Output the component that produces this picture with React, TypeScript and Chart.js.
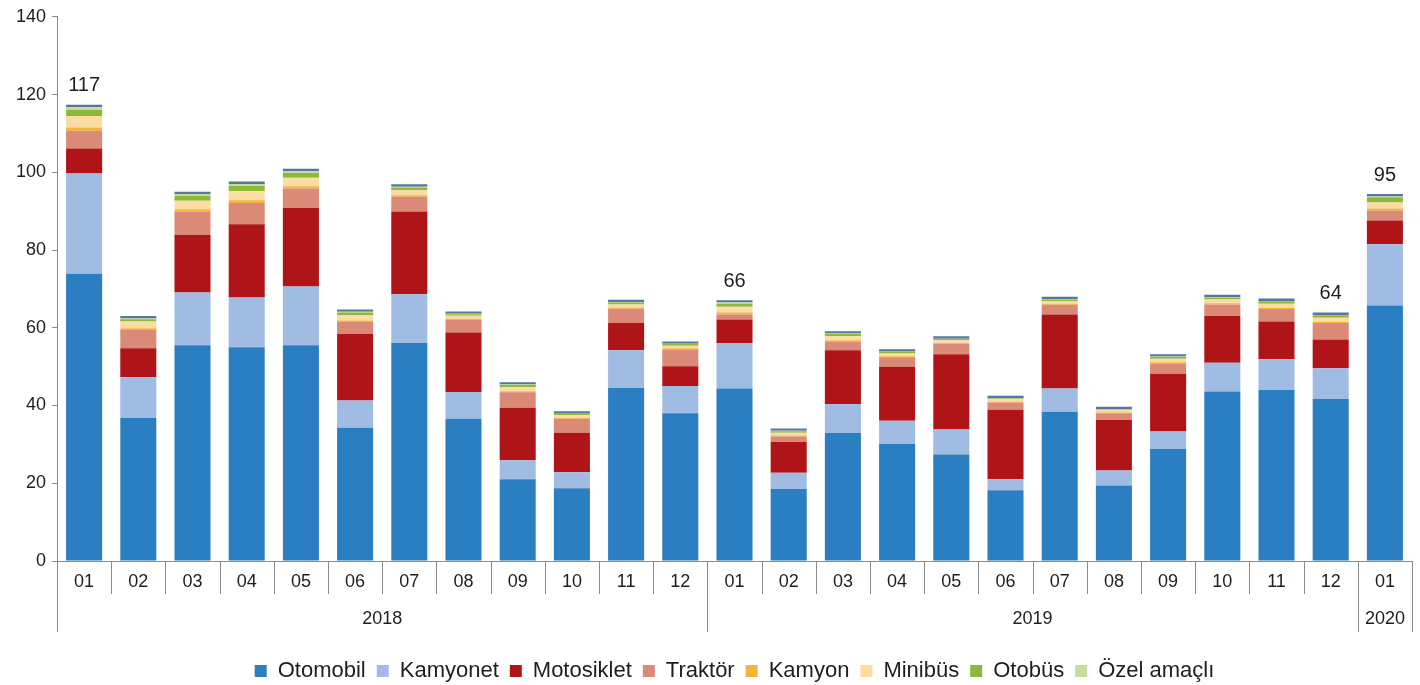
import React, { useEffect, useRef } from "react";
import { Chart, registerables } from "chart.js";

Chart.register(...registerables);

const monthLabels = ["01","02","03","04","05","06","07","08","09","10","11","12","01","02","03","04","05","06","07","08","09","10","11","12","01"];
const yearLabels = ["2018","2018","2018","2018","2018","2018","2018","2018","2018","2018","2018","2018","2019","2019","2019","2019","2019","2019","2019","2019","2019","2019","2019","2019","2020"];
const totalLabels = ["117","","","","","","","","","","","","66","","","","","","","","","","","64","95"];

const otomobil = [73.9, 36.8, 55.5, 55.0, 55.5, 34.3, 56.1, 36.6, 21.0, 18.7, 44.5, 38.0, 44.4, 18.5, 32.9, 30.1, 27.4, 18.2, 38.4, 19.4, 28.8, 43.6, 44.0, 41.7, 65.7];
const kamyonet = [25.8, 10.5, 13.6, 12.8, 15.1, 7.0, 12.5, 6.9, 4.9, 4.1, 9.7, 7.0, 11.7, 4.2, 7.4, 6.0, 6.4, 2.8, 6.0, 3.9, 4.5, 7.4, 7.9, 7.9, 15.8];
const motosiklet = [6.4, 7.4, 14.8, 18.8, 20.2, 17.1, 21.3, 15.3, 13.5, 10.2, 7.0, 5.1, 6.0, 7.9, 13.9, 13.9, 19.4, 17.9, 19.0, 13.0, 14.9, 12.0, 9.7, 7.4, 6.1];
const traktor = [4.6, 4.7, 6.0, 5.5, 5.0, 3.1, 3.8, 3.2, 4.0, 3.6, 3.7, 4.3, 1.3, 1.4, 2.3, 2.4, 2.7, 1.9, 2.5, 1.7, 2.6, 3.0, 3.2, 4.2, 2.6];
const kamyon = [0.8, 0.5, 0.6, 0.7, 0.6, 0.4, 0.4, 0.3, 0.3, 0.2, 0.3, 0.3, 0.5, 0.3, 0.3, 0.3, 0.2, 0.2, 0.3, 0.2, 0.3, 0.3, 0.3, 0.3, 0.5];
const minibus = [3.0, 1.7, 2.2, 2.4, 2.2, 1.3, 1.3, 0.8, 1.0, 0.7, 0.8, 0.7, 1.5, 0.7, 1.0, 0.7, 0.7, 0.6, 0.7, 0.6, 0.9, 1.0, 1.1, 1.1, 1.5];
const otobus = [1.5, 0.6, 1.2, 1.3, 1.2, 0.7, 0.7, 0.4, 0.6, 0.3, 0.5, 0.4, 0.8, 0.4, 0.6, 0.4, 0.3, 0.2, 0.4, 0.2, 0.5, 0.5, 0.6, 0.6, 1.4];
const ozelAmacli = [0.8, 0.2, 0.5, 0.5, 0.5, 0.2, 0.2, 0.1, 0.1, 0.1, 0.1, 0.1, 0.3, 0.1, 0.1, 0.1, 0.1, 0.1, 0.1, 0.1, 0.1, 0.1, 0.1, 0.1, 0.2];
const diger = [0.6, 0.6, 0.6, 0.6, 0.6, 0.6, 0.6, 0.6, 0.6, 0.6, 0.6, 0.6, 0.6, 0.6, 0.6, 0.6, 0.6, 0.6, 0.6, 0.6, 0.6, 0.6, 0.6, 0.6, 0.6];

const yTicks = [0, 20, 40, 60, 80, 100, 120, 140];

const FONT = "'Liberation Sans', Arial, sans-serif";
const TEXT = "#1e1e1e";
const LINE = "#8c8c8c";

const xDecor = {
  id: "xDecor",
  afterDraw(chart: any) {
    const { ctx, chartArea, scales } = chart;
    const x = scales.x;
    const y0 = chartArea.bottom;
    const n = monthLabels.length;
    const half = (x.getPixelForValue(1) - x.getPixelForValue(0)) / 2;
    ctx.save();
    ctx.strokeStyle = LINE;
    ctx.lineWidth = 1;
    for (let i = 0; i <= n; i++) {
      const px = i < n ? x.getPixelForValue(i) - half : x.getPixelForValue(n - 1) + half;
      const long = i === 0 || i === n || yearLabels[i] !== yearLabels[i - 1];
      const xx = Math.round(px) + 0.5;
      ctx.beginPath();
      ctx.moveTo(xx, y0);
      ctx.lineTo(xx, y0 + (long ? 71 : 33));
      ctx.stroke();
    }
    ctx.fillStyle = TEXT;
    ctx.font = `18px ${FONT}`;
    ctx.textAlign = "center";
    ctx.textBaseline = "middle";
    for (let i = 0; i < n; i++) {
      ctx.fillText(monthLabels[i], x.getPixelForValue(i), y0 + 21);
    }
    let start = 0;
    for (let i = 1; i <= n; i++) {
      if (i === n || yearLabels[i] !== yearLabels[start]) {
        const a = x.getPixelForValue(start) - half;
        const b = x.getPixelForValue(i - 1) + half;
        ctx.fillText(yearLabels[start], (a + b) / 2, y0 + 58);
        start = i;
      }
    }
    const lastMeta = chart.getDatasetMeta(chart.data.datasets.length - 1);
    ctx.font = `20px ${FONT}`;
    for (let i = 0; i < n; i++) {
      if (!totalLabels[i]) continue;
      const el = lastMeta.data[i];
      ctx.fillText(totalLabels[i], el.x, el.y - 19);
    }
    ctx.restore();
  },
};

export default function App() {
  const ref = useRef<HTMLCanvasElement>(null);
  useEffect(() => {
    if (!ref.current) return;
    const mk = (label: string, data: number[], color: string) => ({
      label,
      data,
      backgroundColor: color,
      borderWidth: 0,
      barPercentage: 0.665,
      categoryPercentage: 1.0,
    });
    const chart = new Chart(ref.current, {
      type: "bar",
      data: {
        labels: monthLabels,
        datasets: [
          mk("Otomobil", otomobil, "#2B7EC1"),
          mk("Kamyonet", kamyonet, "#A0BCE2"),
          mk("Motosiklet", motosiklet, "#AF1518"),
          mk("Traktör", traktor, "#DA8A76"),
          mk("Kamyon", kamyon, "#F3B43A"),
          mk("Minibüs", minibus, "#FBDCA2"),
          mk("Otobüs", otobus, "#8DB83A"),
          mk("Özel amaçlı", ozelAmacli, "#C6DDA0"),
          mk("Diğer", diger, "#56789A"),
        ],
      },
      options: {
        animation: false,
        responsive: false,
        maintainAspectRatio: false,
        layout: { padding: { left: 0, right: 8, top: 15, bottom: 0 } },
        plugins: {
          tooltip: { enabled: false },
          legend: {
            position: "bottom",
            fullSize: false,
            labels: {
              font: { size: 22, family: FONT },
              color: TEXT,
              boxWidth: 12,
              boxHeight: 12,
              padding: 11,
              filter: (item: any) => item.text !== "Diğer",
            },
          },
        },
        scales: {
          x: {
            stacked: true,
            grid: { display: false },
            ticks: { display: false },
            border: { display: true, color: LINE },
            afterFit: (scale: any) => {
              scale.height = 88;
            },
          },
          y: {
            stacked: true,
            min: 0,
            max: 140,
            afterBuildTicks: (scale: any) => {
              scale.ticks = yTicks.map((v) => ({ value: v }));
            },
            grid: { display: true, drawOnChartArea: false, drawTicks: true, tickLength: 5, color: LINE },
            border: { display: true, color: LINE },
            ticks: { font: { size: 18, family: FONT }, color: TEXT, padding: 6 },
            afterFit: (scale: any) => {
              scale.width = 57;
            },
          },
        },
      },
      plugins: [xDecor],
    });
    return () => chart.destroy();
  }, []);
  return (
    <div style={{ position: "absolute", left: 0, top: 0, width: 1420, height: 685, overflow: "hidden" }}>
      <canvas ref={ref} width={1420} height={692} style={{ display: "block" }} />
    </div>
  );
}
